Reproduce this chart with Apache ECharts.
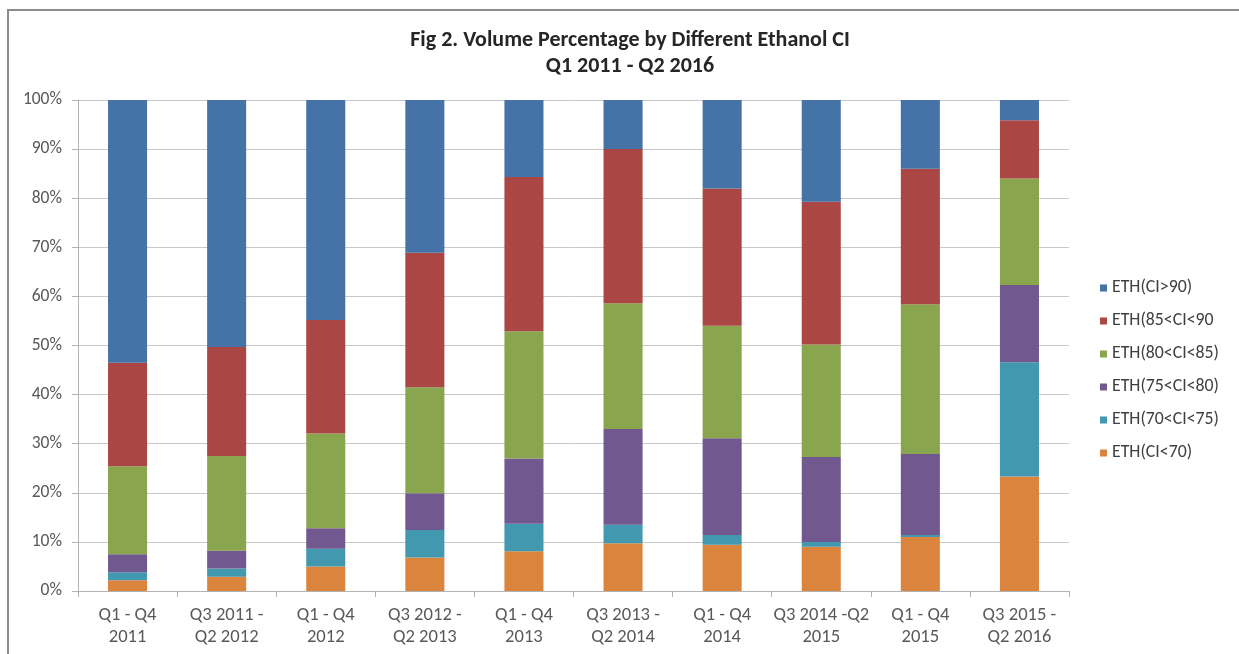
<!DOCTYPE html>
<html>
<head>
<meta charset="utf-8">
<script src="https://cdn.jsdelivr.net/npm/echarts@6/dist/echarts.min.js"></script>
<style>
  html, body { margin: 0; padding: 0; background: #fff; }
  #chart { width: 1239px; height: 654px; }
</style>
</head>
<body>
<div id="chart"></div>
<script>
// Period labels along the category axis
const periods = [
  'Q1 - Q4\n2011', 'Q3 2011 -\nQ2 2012', 'Q1 - Q4\n2012', 'Q3 2012 -\nQ2 2013',
  'Q1 - Q4\n2013', 'Q3 2013 -\nQ2 2014', 'Q1 - Q4\n2014', 'Q3 2014 -Q2\n2015',
  'Q1 - Q4\n2015', 'Q3 2015 -\nQ2 2016'
];

// Volume share (%) per carbon-intensity band, stacked bottom to top
const ciBelow70 = [2.2, 2.9, 5.0, 6.8, 8.1, 9.7, 9.4, 9.0, 11.0, 23.3];
const ci70to75  = [1.6, 1.7, 3.6, 5.6, 5.6, 3.8, 2.0, 1.0, 0.4, 23.3];
const ci75to80  = [3.7, 3.6, 4.2, 7.5, 13.3, 19.5, 19.7, 17.3, 16.5, 15.7];
const ci80to85  = [17.9, 19.3, 19.3, 21.6, 25.9, 25.6, 22.9, 22.9, 30.5, 21.7];
const ci85to90  = [21.1, 22.2, 23.1, 27.4, 31.4, 31.4, 28.0, 29.1, 27.6, 11.9];
const ciAbove90 = [53.5, 50.3, 44.8, 31.1, 15.7, 10.0, 18.0, 20.7, 14.0, 4.1];

const yTicks = [0, 10, 20, 30, 40, 50, 60, 70, 80, 90, 100];

const seriesDefs = [
  { name: 'ETH(CI<70)',    data: ciBelow70, color: '#DB843D' },
  { name: 'ETH(70<CI<75)', data: ci70to75,  color: '#4198AF' },
  { name: 'ETH(75<CI<80)', data: ci75to80,  color: '#71588F' },
  { name: 'ETH(80<CI<85)', data: ci80to85,  color: '#89A54E' },
  { name: 'ETH(85<CI<90',  data: ci85to90,  color: '#AA4643' },
  { name: 'ETH(CI>90)',    data: ciAbove90, color: '#4572A7' }
];

const FONT = 'Carlito, "Liberation Sans Narrow", "Open Sans", sans-serif';

const chart = echarts.init(document.getElementById('chart'), null, { renderer: 'canvas' });

chart.setOption({
  animation: false,
  backgroundColor: '#ffffff',
  textStyle: { fontFamily: FONT },
  title: {
    text: 'Fig 2. Volume Percentage by Different Ethanol CI\nQ1 2011 - Q2 2016',
    left: 625,
    top: 22,
    textAlign: 'center',
    textStyle: {
      fontFamily: FONT,
      fontSize: 22,
      fontWeight: 'bold',
      color: '#262626',
      lineHeight: 26
    }
  },
  legend: {
    orient: 'vertical',
    left: 1095,
    top: 274,
    itemWidth: 7,
    itemHeight: 7,
    itemGap: 15,
    icon: 'rect',
    data: seriesDefs.map(s => s.name).reverse(),
    textStyle: { fontFamily: FONT, fontSize: 17.8, lineHeight: 18, color: '#404040' }
  },
  grid: { left: 78, right: 170, top: 100, bottom: 63 },
  xAxis: {
    type: 'category',
    data: periods,
    axisLine: { lineStyle: { color: '#b3b3b3', width: 1 } },
    axisTick: { show: true, length: 6, lineStyle: { color: '#b3b3b3' } },
    axisLabel: {
      fontFamily: FONT,
      fontSize: 18.6,
      color: '#595959',
      lineHeight: 22,
      margin: 13,
      interval: 0
    }
  },
  yAxis: {
    type: 'value',
    min: yTicks[0],
    max: yTicks[yTicks.length - 1],
    interval: 10,
    axisLine: { show: true, lineStyle: { color: '#b3b3b3', width: 1 } },
    axisTick: { show: true, length: 6, lineStyle: { color: '#b3b3b3' } },
    axisLabel: {
      fontFamily: FONT,
      fontSize: 17.5,
      color: '#595959',
      margin: 16,
      formatter: v => v + '%'
    },
    splitLine: { lineStyle: { color: '#c8c8c8', width: 1 } }
  },
  series: seriesDefs.map(s => ({
    name: s.name,
    type: 'bar',
    stack: 'share',
    barWidth: '39.4%',
    data: s.data,
    itemStyle: { color: s.color }
  })),
  graphic: [
    // frame along the top and left edges
    {
      type: 'polyline',
      shape: { points: [[8, 654], [8, 10], [1239, 10]] },
      style: { stroke: '#8c8c8c', lineWidth: 2, fill: null }
    }
  ]
});
</script>
</body>
</html>
